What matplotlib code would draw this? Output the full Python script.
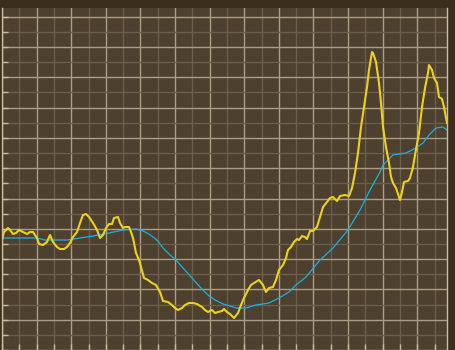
import matplotlib
matplotlib.use("Agg")
import matplotlib.pyplot as plt
from matplotlib.ticker import MultipleLocator

# price trace (yellow)
price_x = [0, 2, 6, 8, 11, 14, 17, 21, 25, 28, 31, 35, 37, 41, 45, 48, 51, 55, 58, 62,
           65, 68, 71, 75, 78, 81, 84, 87, 91, 95, 98, 101, 104, 107, 110, 112, 116, 118, 121, 123,
           127, 129, 131, 134, 137, 139, 142, 146, 150, 154, 158, 161, 166, 170, 173, 176, 180, 183, 187, 191,
           195, 200, 203, 206, 210, 213, 216, 220, 222, 225, 228, 232, 236, 239, 242, 246, 249, 252, 257, 261,
           264, 267, 271, 274, 277, 281, 284, 286, 289, 292, 295, 297, 300, 303, 305, 308, 311, 315, 318, 321,
           325, 328, 331, 335, 338, 343, 347, 350, 353, 356, 359, 362, 365, 367, 370, 371, 374, 377, 379, 381,
           384, 387, 389, 391, 394, 397, 398, 400, 402, 406, 408, 411, 413, 417, 420, 423, 426, 427, 430, 432,
           435, 437, 440, 442, 445]
price_y = [110, 118, 122, 120, 116, 117, 120, 118, 116, 118, 118, 112, 106, 105, 108, 115, 108, 103, 101, 101,
           103, 107, 113, 118, 127, 135, 136, 133, 127, 120, 112, 115, 122, 126, 126, 132, 133, 127, 122, 123,
           123, 118, 112, 97, 90, 83, 72, 70, 67, 65, 58, 49, 48, 45, 42, 40, 42, 45, 47, 47,
           46, 43, 40, 38, 40, 37, 38, 39, 41, 38, 36, 32, 37, 45, 52, 60, 65, 67, 70, 65,
           58, 62, 63, 70, 80, 85, 92, 100, 103, 108, 111, 110, 114, 113, 111, 119, 119, 123, 133, 143,
           148, 152, 153, 149, 154, 155, 154, 162, 177, 197, 223, 243, 263, 280, 298, 297, 288, 267, 247, 223,
           203, 187, 173, 167, 162, 153, 150, 158, 168, 169, 172, 183, 195, 217, 243, 262, 277, 285, 280, 272,
           267, 253, 251, 243, 227]

# smoothed trace (cyan)
avg_x = [0, 23, 35, 43, 65, 78, 91, 107, 121, 134, 141, 147, 155, 161, 168, 173, 181, 190, 198, 206,
         213, 221, 228, 234, 244, 254, 267, 277, 287, 294, 304, 318, 331, 346, 358, 368, 378, 381, 391, 404,
         414, 421, 427, 434, 441, 445]
avg_y = [112, 112, 112, 110, 110, 112, 114, 117, 120, 121, 119, 116, 110, 102, 95, 91, 82, 72, 63, 55,
         50, 46, 44, 42, 42, 45, 47, 52, 58, 65, 73, 90, 102, 120, 140, 160, 178, 185, 195, 197,
         202, 207, 215, 222, 223, 220]

fig = plt.figure(figsize=(4.56, 3.5), dpi=100, facecolor='#3a2e1d')
ax = fig.add_axes([2 / 456, 0, 445 / 456, 342 / 350])
ax.set_facecolor('#4e402e')

ax.plot(avg_x, avg_y, color='#18b2e4', linewidth=0.9)
ax.plot(price_x, price_y, color='#ecd21c', linewidth=1.5)

ax.set_xlim(0, 445)
ax.set_ylim(0, 342)

ax.xaxis.set_major_locator(MultipleLocator(34.6))
ax.xaxis.set_minor_locator(MultipleLocator(17.3))
ax.yaxis.set_major_locator(MultipleLocator(30.3))
ax.yaxis.set_minor_locator(MultipleLocator(15.15))
ax.grid(which='major', color='#ab9c84', linewidth=1.0)
ax.grid(which='minor', color='#6c5e4a', linewidth=1.0)
ax.set_axisbelow(True)

ax.tick_params(which='both', direction='in', length=4, width=1, color='#cbbca2',
               labelbottom=False, labelleft=False)
ax.tick_params(which='both', right=False, top=False)

for side in ['left', 'right']:
    ax.spines[side].set_color('#cbbca2')
    ax.spines[side].set_linewidth(1.0)
ax.spines['top'].set_visible(False)
ax.spines['bottom'].set_visible(False)

fig.savefig('out.png', dpi=100, facecolor=fig.get_facecolor())
